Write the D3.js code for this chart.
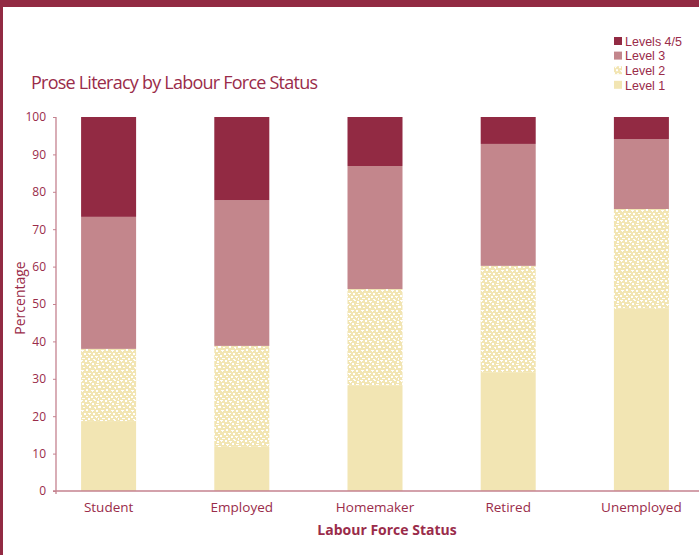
<!DOCTYPE html>
<html>
<head>
<meta charset="utf-8">
<script src="https://cdn.jsdelivr.net/npm/d3@7"></script>
<style>
  html, body { margin: 0; padding: 0; background: #fff; }
  svg { display: block; }
  text { font-family: "Open Sans", "Noto Sans", sans-serif; }
  .legend text { font-family: "Liberation Sans Narrow", "Liberation Sans", sans-serif; }
</style>
</head>
<body>
<svg id="chart" width="699" height="555"></svg>
<script>
// Labour force status categories and literacy level shares (%)
const categories = ["Student", "Employed", "Homemaker", "Retired", "Unemployed"];
const level1   = [18.7, 11.8, 28.3, 31.6, 48.7];
const level2   = [19.3, 27.0, 25.7, 28.6, 26.7];
const level3   = [35.3, 39.0, 32.9, 32.6, 18.7];
const level45  = [26.7, 22.2, 13.1,  7.2,  5.9];
const seriesNames = ["Level 1", "Level 2", "Level 3", "Levels 4/5"];
const yTicks = [0, 10, 20, 30, 40, 50, 60, 70, 80, 90, 100];

const maroon = "#922a43";
const rose = "#c3868c";
const cream = "#f2e5b3";
const textCol = "#9a2c4a";
const axisCol = "#c4828f";

const svg = d3.select("#chart");

// speckled fill for Level 2
const defs = svg.append("defs");
const pat = defs.append("pattern")
  .attr("id", "speckle").attr("patternUnits", "userSpaceOnUse")
  .attr("width", 20).attr("height", 20);
pat.append("rect").attr("width", 20).attr("height", 20).attr("fill", cream);
const specks = [
  [0,0,3,1],[1,1,1,1],[5,0,2,2],[9,1,3,1],[10,2,1,1],[14,0,2,1],[17,1,2,2],
  [2,3,2,2],[6,4,3,1],[7,5,1,1],[12,3,2,2],[16,4,3,1],
  [0,6,1,2],[3,7,2,1],[9,6,2,2],[14,7,2,1],[15,8,1,1],[18,6,2,2],
  [1,10,3,1],[2,11,1,1],[6,9,2,2],[11,10,3,1],[12,11,1,1],[16,10,2,2],
  [4,13,2,2],[8,13,3,1],[9,14,1,1],[13,13,2,2],[18,13,2,1],
  [0,15,2,2],[6,16,2,1],[11,16,2,2],[15,16,3,1],[16,17,1,1],
  [2,18,3,1],[8,18,2,2],[13,19,2,1],[18,18,1,2]
];
pat.selectAll("rect.s").data(specks).join("rect")
  .attr("class", "s")
  .attr("x", d => d[0]).attr("y", d => d[1])
  .attr("width", d => d[2]).attr("height", d => d[3])
  .attr("fill", "#fff");

const fills = [cream, "url(#speckle)", rose, maroon];

// frame
svg.append("rect").attr("x", 0).attr("y", 0).attr("width", 699).attr("height", 7).attr("fill", maroon);
svg.append("rect").attr("x", 0).attr("y", 0).attr("width", 3).attr("height", 555).attr("fill", maroon);

const x = d3.scaleBand().domain(categories)
  .range([42, 708]).paddingInner(0.587).paddingOuter(0.2935);
const y = d3.scaleLinear().domain([0, 100]).range([491, 117]);

const rows = categories.map((c, i) => ({
  cat: c, "Level 1": level1[i], "Level 2": level2[i], "Level 3": level3[i], "Levels 4/5": level45[i]
}));
const stacked = d3.stack().keys(seriesNames)(rows);

svg.append("g").selectAll("g").data(stacked).join("g")
  .attr("fill", (d, i) => fills[i])
  .selectAll("rect").data(d => d).join("rect")
  .attr("x", d => x(d.data.cat))
  .attr("width", x.bandwidth())
  .attr("y", d => y(d[1]))
  .attr("height", d => y(d[0]) - y(d[1]));

// y axis
const yAxis = svg.append("g").attr("transform", "translate(56,0)")
  .call(d3.axisLeft(y).tickValues(yTicks).tickSize(3).tickPadding(7));
yAxis.select(".domain").attr("stroke", axisCol).attr("stroke-width", 1.3)
  .attr("d", "M0,117V494");
yAxis.selectAll(".tick line").attr("stroke", axisCol);
yAxis.selectAll(".tick text").attr("fill", textCol).attr("font-size", 12);

// x axis
const xAxis = svg.append("g").attr("transform", "translate(0,491)")
  .call(d3.axisBottom(x).tickSize(0).tickPadding(11));
xAxis.select(".domain").attr("stroke", axisCol).attr("stroke-width", 1.3)
  .attr("d", "M53,0H699");
xAxis.selectAll(".tick text").attr("fill", textCol).attr("font-size", 13.5);

// titles
svg.append("text").attr("x", 31).attr("y", 89)
  .attr("fill", textCol).attr("font-size", 18).attr("textLength", 287)
  .text("Prose Literacy by Labour Force Status");

svg.append("text").attr("transform", "translate(25,298) rotate(-90)")
  .attr("text-anchor", "middle").attr("fill", textCol).attr("font-size", 14)
  .text("Percentage");

svg.append("text").attr("x", 387).attr("y", 535)
  .attr("text-anchor", "middle").attr("fill", textCol).attr("font-size", 14)
  .attr("font-weight", "bold")
  .text("Labour Force Status");

// legend, top entry first
const legendItems = seriesNames.slice().reverse();
const legendFills = fills.slice().reverse();
const lg = svg.append("g").attr("class", "legend").selectAll("g").data(legendItems).join("g")
  .attr("transform", (d, i) => `translate(614,${37 + i * 14.6})`);
lg.append("rect").attr("width", 8).attr("height", 8)
  .attr("fill", (d, i) => legendFills[i]);
lg.append("text").attr("x", 11).attr("y", 8.8)
  .attr("fill", textCol).attr("font-size", 12.5)
  .text(d => d);
</script>
</body>
</html>
